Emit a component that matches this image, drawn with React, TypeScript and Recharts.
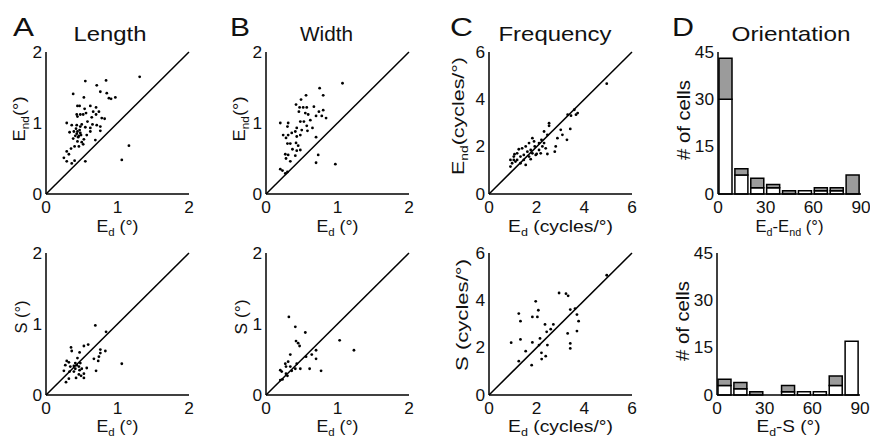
import React from 'react';
import { ScatterChart, Scatter, XAxis, YAxis, ReferenceLine, BarChart, Bar } from 'recharts';

type P = [number, number];

// Panel A: Length (degrees)
const lengthEnd: P[] = [
  [1.31, 1.65], [0.55, 1.59], [0.84, 1.6], [0.71, 1.53], [0.38, 1.41], [0.53, 1.36], [0.76, 1.44],
  [0.85, 1.42], [0.88, 1.35], [0.91, 1.34], [0.97, 1.36], [0.44, 1.24], [0.47, 1.24], [0.62, 1.24],
  [0.7, 1.22], [0.54, 1.2], [0.66, 1.16], [0.74, 1.16], [0.56, 1.14], [0.43, 1.12], [0.48, 1.12],
  [0.44, 1.09], [0.52, 1.12], [0.7, 1.12], [0.64, 1.08], [0.78, 1.07], [0.82, 1.06], [0.29, 1.0],
  [0.36, 0.97], [0.43, 0.97], [0.48, 0.95], [0.55, 0.94], [0.62, 0.93], [0.71, 0.97], [0.76, 0.95],
  [0.33, 0.87], [0.39, 0.88], [0.44, 0.88], [0.43, 0.85], [0.48, 0.86], [0.41, 0.82], [0.46, 0.82],
  [0.49, 0.83], [0.57, 0.83], [0.62, 0.88], [0.76, 0.89], [0.53, 0.77], [0.44, 0.74], [0.69, 0.76],
  [0.4, 0.67], [0.35, 0.64], [0.46, 0.67], [0.29, 0.6], [0.32, 0.56], [0.25, 0.51], [0.29, 0.46],
  [0.36, 0.43], [0.4, 0.47], [0.55, 0.46], [1.16, 0.68], [1.06, 0.48], [0.5, 0.73],
  [0.45, 0.8], [0.47, 0.9], [0.42, 0.92], [0.5, 0.98], [0.38, 0.78], [0.58, 1.02], [0.65, 0.98], [0.52, 0.7],
];
const lengthS: P[] = [
  [0.69, 0.98], [0.84, 0.89], [0.59, 0.71], [0.53, 0.69], [0.35, 0.67], [0.36, 0.62], [0.47, 0.6],
  [0.76, 0.64], [0.76, 0.59], [0.83, 0.62], [0.74, 0.54], [0.67, 0.51], [0.73, 0.48], [0.29, 0.48],
  [0.32, 0.46], [0.44, 0.52], [0.48, 0.45], [0.41, 0.45], [0.43, 0.42], [0.39, 0.41], [0.46, 0.4],
  [0.34, 0.4], [0.27, 0.42], [0.5, 0.37], [0.57, 0.38], [0.41, 0.37], [0.25, 0.34], [0.33, 0.33],
  [0.53, 0.3], [0.46, 0.29], [0.49, 0.27], [0.42, 0.24], [0.53, 0.24], [0.32, 0.23], [0.28, 0.18],
  [0.7, 0.34], [1.06, 0.44], [0.39, 0.33], [0.47, 0.35],
];

// Panel B: Width (degrees)
const widthEnd: P[] = [
  [1.07, 1.56], [0.75, 1.49], [0.8, 1.39], [0.56, 1.39], [0.49, 1.33], [0.42, 1.26], [0.47, 1.22],
  [0.52, 1.22], [0.57, 1.22], [0.67, 1.23], [0.74, 1.16], [0.8, 1.18], [0.46, 1.16], [0.55, 1.14],
  [0.59, 1.12], [0.7, 1.1], [0.78, 1.1], [0.84, 1.07], [0.2, 1.0], [0.31, 1.0], [0.3, 0.95],
  [0.48, 1.02], [0.53, 1.02], [0.62, 1.04], [0.57, 0.96], [0.65, 0.93], [0.43, 0.93], [0.5, 0.9],
  [0.58, 0.89], [0.41, 0.88], [0.24, 0.83], [0.31, 0.83], [0.28, 0.79], [0.43, 0.81], [0.48, 0.83],
  [0.7, 0.8], [0.3, 0.71], [0.34, 0.71], [0.42, 0.72], [0.45, 0.68], [0.37, 0.63], [0.43, 0.61],
  [0.27, 0.56], [0.31, 0.55], [0.41, 0.54], [0.28, 0.5], [0.34, 0.46], [0.2, 0.35], [0.23, 0.33],
  [0.27, 0.29], [0.3, 0.31], [0.73, 0.55], [0.7, 0.44], [0.97, 0.42], [0.48, 0.62], [0.36, 0.86],
];
const widthS: P[] = [
  [0.32, 1.1], [0.41, 0.96], [0.55, 0.88], [0.42, 0.76], [0.45, 0.73], [0.47, 0.69], [1.03, 0.77],
  [1.23, 0.63], [0.34, 0.57], [0.7, 0.63], [0.64, 0.57], [0.56, 0.54], [0.7, 0.51], [0.27, 0.44],
  [0.31, 0.47], [0.43, 0.44], [0.28, 0.4], [0.41, 0.37], [0.48, 0.37], [0.61, 0.37], [0.77, 0.34],
  [0.2, 0.35], [0.22, 0.33], [0.28, 0.3], [0.3, 0.27], [0.2, 0.21], [0.23, 0.22], [0.34, 0.4], [0.36, 0.34],
];

// Panel C: Frequency (cycles/deg)
const freqEnd: P[] = [
  [4.94, 4.66], [3.72, 3.42], [3.65, 3.35], [3.44, 3.31], [3.3, 3.35], [3.58, 3.56], [3.01, 2.71],
  [3.41, 2.75], [3.27, 2.29], [3.08, 2.5], [2.52, 2.99], [2.52, 2.88], [2.87, 2.36], [2.8, 2.01],
  [2.76, 1.79], [2.45, 2.5], [2.31, 2.15], [2.2, 2.29], [2.1, 2.15], [1.92, 2.01], [2.0, 1.69],
  [2.17, 1.72], [2.45, 1.69], [1.82, 2.36], [1.68, 2.15], [1.54, 2.01], [1.39, 1.93], [1.25, 1.89],
  [1.18, 1.72], [1.04, 1.58], [0.9, 1.44], [0.97, 1.3], [0.9, 1.16], [1.11, 1.37], [1.18, 1.44],
  [1.32, 1.58], [1.46, 1.65], [1.61, 1.79], [1.75, 1.86], [1.54, 1.23], [1.46, 1.44], [1.68, 1.58],
  [1.82, 1.72], [1.96, 1.65], [2.24, 2.01], [2.38, 1.93], [1.04, 1.44], [1.32, 1.3], [1.75, 1.47],
  [2.1, 1.86], [1.89, 2.22], [2.31, 2.64], [1.07, 1.68],
];
const freqS: P[] = [
  [4.94, 5.06], [2.94, 4.31], [3.23, 4.28], [3.32, 4.19], [1.96, 3.96], [2.07, 3.58], [1.82, 3.3],
  [2.03, 3.3], [1.25, 3.44], [1.32, 3.12], [3.41, 3.61], [3.61, 3.65], [3.69, 3.4], [3.76, 3.12],
  [3.69, 2.7], [3.3, 2.6], [3.41, 2.18], [3.41, 1.97], [2.35, 2.98], [2.7, 2.98], [2.59, 2.78],
  [2.42, 2.67], [2.14, 2.39], [2.1, 2.11], [2.45, 2.11], [2.2, 1.78], [2.38, 1.64], [2.21, 1.52],
  [1.82, 2.22], [0.93, 2.21], [1.32, 2.35], [1.54, 1.85], [1.25, 1.43], [1.79, 1.26],
];

// Panel D: Orientation histograms (bin centers in degrees)
const orientBins = [5, 15, 25, 35, 45, 55, 65, 75, 85];
const orientEndWhite = [30, 6, 2, 2, 0, 1, 1, 1, 0];
const orientEndGray = [13, 2, 3, 1, 1, 0, 1, 1, 6];
const orientSWhite = [3, 2, 0, 0, 1, 1, 1, 3, 17];
const orientSGray = [2, 2, 1, 0, 2, 0, 0, 3, 0];

const ticks2 = [0, 1, 2];
const ticks6 = [0, 2, 4, 6];
const countTicks = [0, 15, 30, 45];
const angleTicks = [0, 30, 60, 90];

type Seg = { t: string; sub?: boolean };

const FONT = '"Liberation Sans", Arial, Helvetica, sans-serif';
const TXT = '#111';
const axisStyle = { stroke: '#000', strokeWidth: 1.5 };

function renderSegs(segs: Seg[], subSize: number) {
  let prevSub = false;
  return segs.map((s, i) => {
    let dy: number | undefined;
    if (s.sub && !prevSub) dy = 4;
    else if (!s.sub && prevSub) dy = -4;
    prevSub = !!s.sub;
    return (
      <tspan key={i} dy={dy} fontSize={s.sub ? subSize : undefined}>
        {s.t}
      </tspan>
    );
  });
}

const Tick = (props: any) => {
  const { x, y, payload, textAnchor, side } = props;
  const s = String(payload.value);
  const dy = side === 'x' ? '0.71em' : '0.355em';
  return (
    <text x={x} y={y} dy={dy} textAnchor={textAnchor} fontSize={16} fill={TXT}
      textLength={s.length * 9.6} lengthAdjust="spacingAndGlyphs">
      {s}
    </text>
  );
};

const XLab = (props: any) => {
  const { viewBox, segs, off, len } = props;
  const { x, y, width } = viewBox;
  return (
    <text x={x + width / 2} y={y + off} textAnchor="middle" fontSize={17} fill={TXT}
      textLength={len} lengthAdjust="spacingAndGlyphs">
      {renderSegs(segs, 11)}
    </text>
  );
};

const YLab = (props: any) => {
  const { viewBox, segs, off, dyc, len, size } = props;
  const { x, y, width, height } = viewBox;
  const cx = x + width - off;
  const cy = y + height / 2 + dyc;
  return (
    <text x={cx} y={cy} transform={`rotate(-90, ${cx}, ${cy})`} textAnchor="middle" fontSize={size || 17} fill={TXT}
      textLength={len} lengthAdjust="spacingAndGlyphs">
      {renderSegs(segs, 11)}
    </text>
  );
};

const Dot = (props: any) => <circle cx={props.cx} cy={props.cy} r={1.4} fill="#000" />;

const PW = 143;
const PH = 142;
const ML = 60;
const MT = 40;
const MR = 12;
const XH = 45;

function ScatterPanel(p: {
  left: number; top: number; pts: P[]; max: number; ticks: number[];
  xSegs: Seg[]; ySegs: Seg[]; xOff: number; yOff: number; yDy: number; xLen: number; yLen: number;
}) {
  const data = p.pts.map(([x, y]) => ({ x, y }));
  return (
    <div style={{ position: 'absolute', left: p.left - ML, top: p.top - MT }}>
      <ScatterChart width={ML + PW + MR} height={MT + PH + XH} margin={{ top: MT, right: MR, bottom: 0, left: 0 }}>
        <XAxis type="number" dataKey="x" domain={[0, p.max]} ticks={p.ticks} interval={0} height={XH}
          axisLine={axisStyle} tickLine={false} tick={<Tick side="x" />}
          label={<XLab segs={p.xSegs} off={p.xOff} len={p.xLen} />} />
        <YAxis type="number" dataKey="y" domain={[0, p.max]} ticks={p.ticks} interval={0} width={ML}
          axisLine={axisStyle} tickLine={false} tick={<Tick side="y" />} tickSize={2} tickMargin={2}
          label={<YLab segs={p.ySegs} off={p.yOff} dyc={p.yDy} len={p.yLen} />} />
        <ReferenceLine segment={[{ x: 0, y: 0 }, { x: p.max, y: p.max }]} stroke="#000" strokeWidth={1.5} />
        <Scatter data={data} shape={Dot} isAnimationActive={false} />
      </ScatterChart>
    </div>
  );
}

function HistPanel(p: {
  left: number; top: number; white: number[]; gray: number[];
  xSegs: Seg[]; xOff: number; xLen: number;
}) {
  const data = orientBins.map((c, i) => ({ c, w: p.white[i], g: p.gray[i] }));
  return (
    <div style={{ position: 'absolute', left: p.left - ML, top: p.top - MT }}>
      <BarChart width={ML + PW + MR} height={MT + PH + XH} data={data} margin={{ top: MT, right: MR, bottom: 0, left: 0 }}>
        <XAxis type="number" dataKey="c" domain={[0, 90]} ticks={angleTicks} interval={0} height={XH}
          axisLine={axisStyle} tickLine={false} tick={<Tick side="x" />}
          label={<XLab segs={p.xSegs} off={p.xOff} len={p.xLen} />} />
        <YAxis type="number" domain={[0, 45]} ticks={countTicks} interval={0} width={ML}
          axisLine={axisStyle} tickLine={false} tick={<Tick side="y" />} tickSize={2} tickMargin={2}
          label={<YLab segs={[{ t: '# of cells' }]} off={28} dyc={-3} len={80} size={18} />} />
        <Bar dataKey="w" stackId="s" fill="#fff" stroke="#000" strokeWidth={1.5} barSize={13} isAnimationActive={false} />
        <Bar dataKey="g" stackId="s" fill="#9b9b9b" stroke="#000" strokeWidth={1.5} barSize={13} isAnimationActive={false} />
      </BarChart>
    </div>
  );
}

const degX: Seg[] = [{ t: 'E' }, { t: 'd', sub: true }, { t: ' (°)' }];
const degEnd: Seg[] = [{ t: 'E' }, { t: 'nd', sub: true }, { t: '(°)' }];
const degS: Seg[] = [{ t: 'S (°)' }];
const cycX: Seg[] = [{ t: 'E' }, { t: 'd', sub: true }, { t: ' (cycles/°)' }];
const cycEnd: Seg[] = [{ t: 'E' }, { t: 'nd', sub: true }, { t: '(cycles/°)' }];
const cycS: Seg[] = [{ t: 'S (cycles/°)' }];
const oriEnd: Seg[] = [{ t: 'E' }, { t: 'd', sub: true }, { t: '-E' }, { t: 'nd', sub: true }, { t: ' (°)' }];
const oriS: Seg[] = [{ t: 'E' }, { t: 'd', sub: true }, { t: '-S (°)' }];

const TOP = 52;
const BOT = 253;

export default function App() {
  return (
    <div style={{ position: 'absolute', left: 0, top: 0, width: 870, height: 437, background: '#fff', fontFamily: FONT, overflow: 'hidden' }}>
      <ScatterPanel left={46} top={TOP} pts={lengthEnd} max={2} ticks={ticks2} xSegs={degX} ySegs={degEnd} xOff={38} yOff={21} yDy={-4} xLen={42} yLen={45} />
      <ScatterPanel left={46} top={BOT} pts={lengthS} max={2} ticks={ticks2} xSegs={degX} ySegs={degS} xOff={37} yOff={19} yDy={-7} xLen={42} yLen={33} />
      <ScatterPanel left={266} top={TOP} pts={widthEnd} max={2} ticks={ticks2} xSegs={degX} ySegs={degEnd} xOff={38} yOff={21} yDy={-4} xLen={42} yLen={45} />
      <ScatterPanel left={266} top={BOT} pts={widthS} max={2} ticks={ticks2} xSegs={degX} ySegs={degS} xOff={37} yOff={19} yDy={-7} xLen={42} yLen={35} />
      <ScatterPanel left={489} top={TOP} pts={freqEnd} max={6} ticks={ticks6} xSegs={cycX} ySegs={cycEnd} xOff={38} yOff={25} yDy={-7} xLen={105} yLen={118} />
      <ScatterPanel left={489} top={BOT} pts={freqS} max={6} ticks={ticks6} xSegs={cycX} ySegs={cycS} xOff={37} yOff={21} yDy={-9} xLen={105} yLen={112} />
      <HistPanel left={718} top={TOP} white={orientEndWhite} gray={orientEndGray} xSegs={oriEnd} xOff={38} xLen={68} />
      <HistPanel left={717} top={BOT} white={orientSWhite} gray={orientSGray} xSegs={oriS} xOff={37} xLen={64} />
      <svg width={870} height={437} style={{ position: 'absolute', left: 0, top: 0, pointerEvents: 'none' }}>
        <g fill={TXT}>
          <text x={13} y={36} fontSize={25} textLength={21} lengthAdjust="spacingAndGlyphs">A</text>
          <text x={230} y={36} fontSize={25} textLength={20} lengthAdjust="spacingAndGlyphs">B</text>
          <text x={450} y={36} fontSize={25} textLength={23} lengthAdjust="spacingAndGlyphs">C</text>
          <text x={672} y={36} fontSize={25} textLength={22} lengthAdjust="spacingAndGlyphs">D</text>
          <text x={110} y={41} fontSize={21} textAnchor="middle" textLength={73} lengthAdjust="spacingAndGlyphs">Length</text>
          <text x={326.5} y={41} fontSize={21} textAnchor="middle" textLength={53} lengthAdjust="spacingAndGlyphs">Width</text>
          <text x={555} y={41} fontSize={21} textAnchor="middle" textLength={113} lengthAdjust="spacingAndGlyphs">Frequency</text>
          <text x={791} y={41} fontSize={21} textAnchor="middle" textLength={119} lengthAdjust="spacingAndGlyphs">Orientation</text>
        </g>
      </svg>
    </div>
  );
}
